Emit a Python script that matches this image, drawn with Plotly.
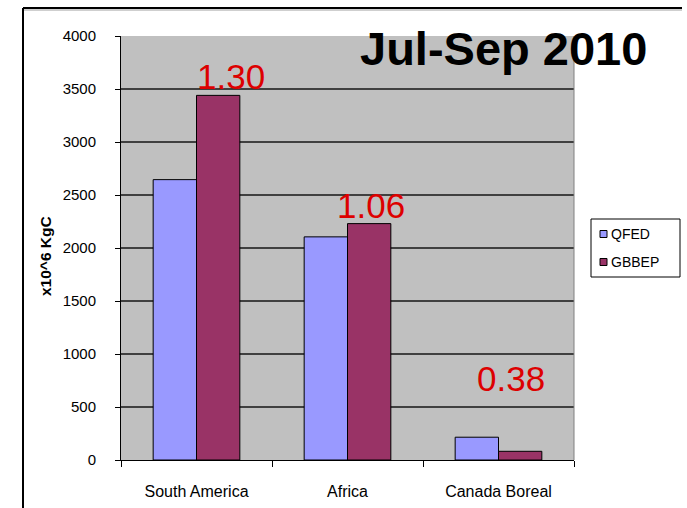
import plotly.graph_objects as go

# Fire emission totals per region, x10^6 kgC
categories = ["South America", "Africa", "Canada Boreal"]
qfed = [2645, 2105, 215]
gbbep = [3440, 2230, 82]
series_names = ["QFED", "GBBEP"]
y_ticks = [0, 500, 1000, 1500, 2000, 2500, 3000, 3500, 4000]

QFED_COLOR = "#9999FF"
GBBEP_COLOR = "#993366"
FONT = "Liberation Sans, Arial, sans-serif"

W, H = 687, 508
ML, MR, MT, MB = 121, 113, 36, 48
PW, PH = W - ML - MR, H - MT - MB


def px(x):
    return (x - ML) / PW


def py(y):
    return (H - MB - y) / PH


fig = go.Figure()
for name, vals, color in zip(series_names, [qfed, gbbep], [QFED_COLOR, GBBEP_COLOR]):
    fig.add_trace(go.Bar(
        x=categories, y=vals, name=name,
        marker=dict(color=color, line=dict(color="black", width=1)),
        showlegend=False,
    ))

# GBBEP / QFED ratio above each region
label_offsets = [(0.23, 3620), (0.156, 2405), (0.083, 765)]
for i, (q, g) in enumerate(zip(qfed, gbbep)):
    dx, ly = label_offsets[i]
    fig.add_annotation(
        x=i + dx, y=ly, xref="x", yref="y", text=f"{g / q:.2f}",
        xanchor="center", yanchor="middle",
        showarrow=False, font=dict(family=FONT, size=35, color="#DD0000"),
    )

# Period title
fig.add_annotation(
    x=px(503), y=py(48), xref="paper", yref="paper", text="Jul-Sep 2010",
    xanchor="center", yanchor="middle",
    showarrow=False, font=dict(family=FONT, size=47, color="black", weight="bold"),
)

# Y-axis title
fig.add_annotation(
    x=px(45), y=py(256), xref="paper", yref="paper", text="x10^6 KgC",
    xanchor="center", yanchor="middle",
    showarrow=False, textangle=-90,
    font=dict(family=FONT, size=15.5, color="black", weight="bold"),
)

shapes = []
# Outer frame (top and left edges)
shapes.append(dict(type="line", xref="paper", yref="paper",
                   x0=px(23), x1=px(682), y0=py(8), y1=py(8),
                   line=dict(color="black", width=2)))
shapes.append(dict(type="line", xref="paper", yref="paper",
                   x0=px(23), x1=px(682), y0=py(10), y1=py(10),
                   line=dict(color="#A0A0A0", width=1)))
shapes.append(dict(type="line", xref="paper", yref="paper",
                   x0=px(23), x1=px(23), y0=py(8), y1=py(520),
                   line=dict(color="black", width=2)))
# Right edge of the plot area
shapes.append(dict(type="line", xref="paper", yref="paper",
                   x0=1, x1=1, y0=0, y1=1, line=dict(color="#808080", width=1)))

# Legend box with swatches
shapes.append(dict(type="rect", xref="paper", yref="paper",
                   x0=px(591), x1=px(680), y0=py(219), y1=py(277),
                   fillcolor="white", line=dict(color="black", width=1)))
for name, color, cy in zip(series_names, [QFED_COLOR, GBBEP_COLOR], [234, 262]):
    shapes.append(dict(type="rect", xref="paper", yref="paper",
                       x0=px(600), x1=px(607), y0=py(cy - 3.5), y1=py(cy + 3.5),
                       fillcolor=color, line=dict(color="black", width=1)))
    fig.add_annotation(
        x=px(609), y=py(cy), xref="paper", yref="paper", text=name,
        xanchor="left", yanchor="middle", showarrow=False,
        font=dict(family=FONT, size=14, color="black"),
    )

fig.update_layout(
    width=W, height=H,
    margin=dict(l=ML, r=MR, t=MT, b=MB, pad=0, autoexpand=False),
    paper_bgcolor="white", plot_bgcolor="#C0C0C0",
    barmode="group", bargap=0.426, bargroupgap=0,
    shapes=shapes,
    font=dict(family=FONT, color="black"),
)
fig.update_xaxes(
    automargin=False,
    showline=True, linecolor="black", linewidth=1,
    ticks="outside", tickson="boundaries", ticklen=6, tickcolor="black",
    tickfont=dict(size=16), ticklabelstandoff=17,
    showgrid=False,
)
fig.update_yaxes(
    automargin=False,
    range=[0, 4000], tickvals=y_ticks,
    showline=True, linecolor="black", linewidth=1,
    ticks="outside", ticklen=5, tickcolor="black",
    tickfont=dict(size=15), ticklabelstandoff=16,
    showgrid=True, gridcolor="#404040", gridwidth=1.5,
    zeroline=False,
)

fig.write_html("out.html")
